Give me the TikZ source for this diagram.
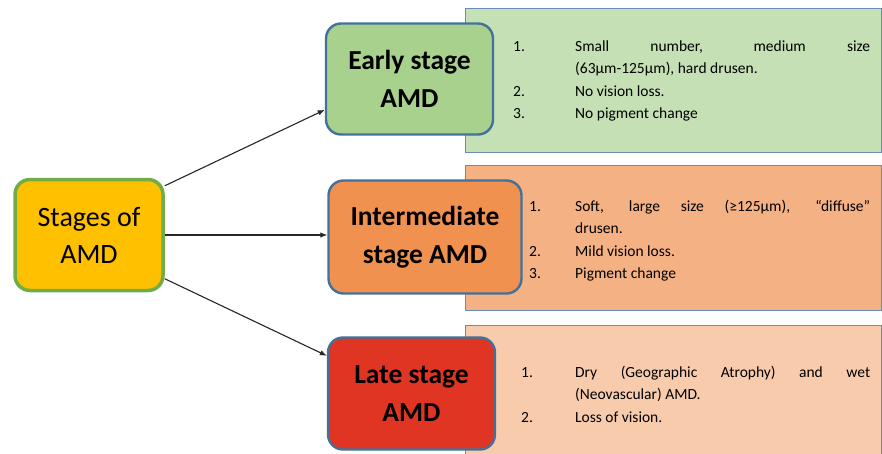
\documentclass[tikz,border=0pt]{standalone}
\usepackage{fontspec}
\setmainfont{Carlito}
\usetikzlibrary{arrows.meta}
\definecolor{stagefill}{HTML}{FFC000}
\definecolor{stageline}{HTML}{70AD47}
\definecolor{boxline}{HTML}{41719C}
\definecolor{earlyfill}{HTML}{A9D18E}
\definecolor{earlybg}{HTML}{C5E0B4}
\definecolor{interfill}{HTML}{F0914F}
\definecolor{interbg}{HTML}{F4B183}
\definecolor{latefill}{HTML}{DF3522}
\definecolor{latebg}{HTML}{F8CBAD}
\definecolor{rectline}{HTML}{6A8DB8}
\newcommand\litem[3]{\noindent\hangindent=#1\hangafter=1\makebox[#1][l]{#2}#3\par}
\tikzset{
  stagebox/.style={draw=boxline, line width=2.4pt, rounded corners=15pt, inner sep=0pt,
    align=center, font=\fontsize{27.5}{38}\selectfont\bfseries},
  bgrect/.style={draw=rectline, line width=0.9pt, inner sep=0pt},
  listtext/.style={inner sep=0pt, align=justify, font=\fontsize{15.5}{22.5}\selectfont},
  conn/.style={draw=black!85, line width=1.1pt, -{Latex[length=7pt,width=5.5pt]}}
}
\begin{document}
\begin{tikzpicture}[x=1pt,y=-1pt]
\useasboundingbox (0,0) rectangle (882,453);
% background text rectangles
\node[bgrect, fill=earlybg, minimum width=416pt, minimum height=144pt] (earlyrect) at (673,80) {};
\node[bgrect, fill=interbg, minimum width=416pt, minimum height=145pt] (interrect) at (673,237.5) {};
\node[bgrect, fill=latebg, minimum width=416pt, minimum height=140pt] (laterect) at (673,395) {};
% main boxes
\node[draw=stageline, fill=stagefill, line width=3.5pt, rounded corners=15pt, inner sep=0pt,
  minimum width=148pt, minimum height=111pt, align=center,
  font=\fontsize{28}{37}\selectfont] (stages) at (89,235) {Stages of\\AMD};
\node[stagebox, fill=earlyfill, minimum width=167pt, minimum height=111pt] (early) at (409.5,79) {Early stage\\AMD};
\node[stagebox, fill=interfill, minimum width=193pt, minimum height=113pt] (inter) at (425,237) {Intermediate\\stage AMD};
\node[stagebox, fill=latefill, minimum width=167pt, minimum height=112pt] (late) at (411.5,393.5) {Late stage\\AMD};
% lists
\node[listtext, text width=357pt, anchor=base west] (earlylist) at (513,51) {%
\litem{62pt}{1.}{Small number, medium size\linebreak (63µm-125µm), hard drusen.}%
\litem{62pt}{2.}{No vision loss.}%
\litem{62pt}{3.}{No pigment change}};
\node[listtext, text width=341pt, anchor=base west] (interlist) at (529,211) {%
\litem{46pt}{1.}{Soft, large size (≥125µm), “diffuse”\linebreak drusen.}%
\litem{46pt}{2.}{Mild vision loss.}%
\litem{46pt}{3.}{Pigment change}};
\node[listtext, text width=349pt, anchor=base west] (latelist) at (521,377) {%
\litem{54pt}{1.}{Dry (Geographic Atrophy) and wet\linebreak (Neovascular) AMD.}%
\litem{54pt}{2.}{Loss of vision.}};
% connectors
\draw[conn] (stages.33) -- (early.200);
\draw[conn] (stages.east) -- (stages.east -| inter.west);
\draw[conn] (stages.-30) -- (late.156);
\end{tikzpicture}
\end{document}
